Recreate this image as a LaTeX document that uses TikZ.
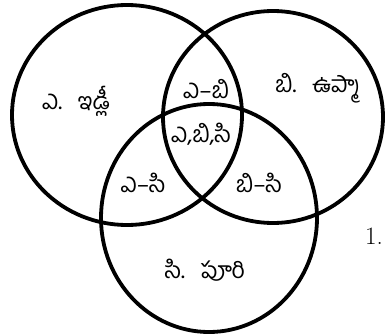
\documentclass[tikz,border=0pt]{standalone}
\usepackage{fontspec}
\newfontfamily\telugu[Script=Telugu]{Hind Guntur}
\begin{document}
\begin{tikzpicture}[x=1pt,y=-1pt,
  setline/.style={line width=3.8pt,black},
  lbl/.style={font=\telugu\fontsize{23}{26}\selectfont,inner sep=0pt,anchor=center}]
\useasboundingbox (0,0) rectangle (385,334);
\draw[setline] (127,115) ellipse [x radius=115pt, y radius=110pt];
\draw[setline] (273,117) ellipse [x radius=110pt, y radius=106pt];
\draw[setline] (209,218) ellipse [x radius=108pt, y radius=114pt];
\node[lbl] (a)   at (76,101)  {ఎ.\hspace{0.7em}ఇడ్లీ};
\node[lbl] (b)   at (318,88)  {బి.\hspace{0.7em}ఉప్మా};
\node[lbl] (c)   at (205,270) {సి.\hspace{0.7em}పూరి};
\node[lbl] (ab)  at (206,89)  {ఎ–బి};
\node[lbl] (abc) at (201,134) {ఎ,బి,సి};
\node[lbl] (ac)  at (143,183) {ఎ–సి};
\node[lbl] (bc)  at (259,183) {బి–సి};
\node[font=\fontsize{25}{28}\selectfont,inner sep=0pt] (num) at (374,236) {1.};
\end{tikzpicture}
\end{document}
